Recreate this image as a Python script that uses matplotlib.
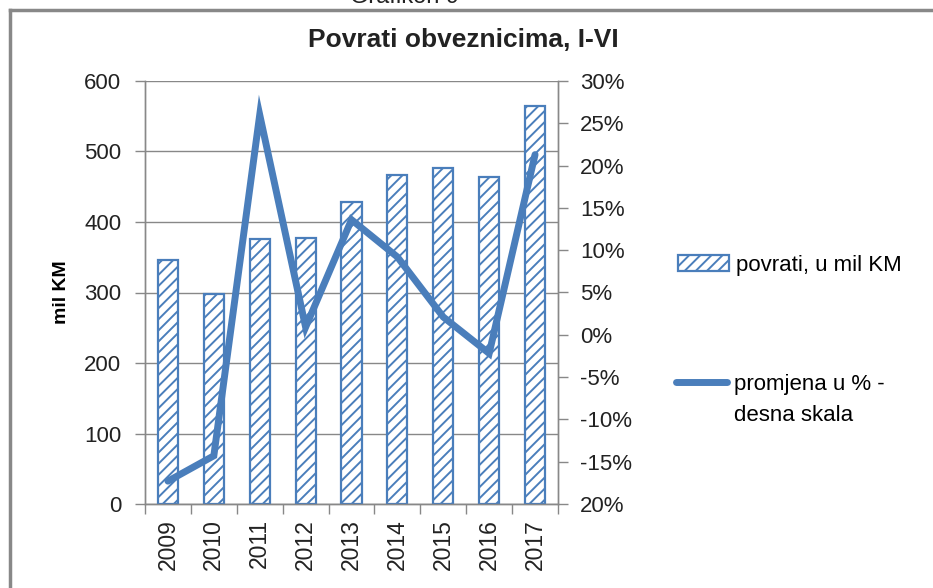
import matplotlib as mpl
import matplotlib.pyplot as plt
from matplotlib.patches import Patch
from matplotlib.lines import Line2D
import numpy as np

plt.rcParams['font.family'] = ['Liberation Sans', 'DejaVu Sans']
plt.rcParams['hatch.linewidth'] = 1.4
plt.rcParams['hatch.color'] = '#4a7ebb'

# data
years = ['2009', '2010', '2011', '2012', '2013', '2014', '2015', '2016', '2017']
povrati = [346, 298, 376, 377, 428, 467, 477, 464, 565]          # mil KM
promjena = [-17.3, -14.3, 26.0, 0.9, 13.6, 9.2, 2.1, -2.2, 21.3]  # %
left_ticks = [0, 100, 200, 300, 400, 500, 600]
right_ticks = [-20, -15, -10, -5, 0, 5, 10, 15, 20, 25, 30]
right_labels = ['20%', '-15%', '-10%', '-5%', '0%', '5%', '10%', '15%', '20%', '25%', '30%']

blue = '#4a7ebb'
gray = '#888888'
txt = '#222222'

fig = plt.figure(figsize=(9.33, 5.88), dpi=100)
ax1 = fig.add_axes([145/933, 1-504/588, (558-145)/933, (504-81)/588])
ax2 = ax1.twinx()

x = np.arange(len(years))
ax1.bar(x, povrati, width=0.44, facecolor='white', edgecolor=blue, hatch='///', linewidth=1.6, zorder=3)
ax2.plot(x, promjena, c=blue, lw=5, solid_capstyle='round', solid_joinstyle='miter', zorder=4)

ax1.set_xlim(-0.5, len(years)-0.5)
ax1.set_ylim(0, 600)
ax1.set_yticks(left_ticks)
ax1.yaxis.grid(True, color=gray, lw=1.0, zorder=0)
ax1.set_axisbelow(True)
ax1.set_xticks(x)
ax1.set_xticklabels(years, rotation=90, fontsize=16.5)
ax1.set_xticks(np.arange(-0.5, len(years)), minor=True)
ax1.tick_params(axis='x', which='major', length=0, pad=11, labelcolor=txt)
ax1.tick_params(axis='x', which='minor', length=7, color=gray, width=1)
ax1.tick_params(axis='y', length=7, color=gray, width=1, labelsize=16, labelcolor=txt, pad=10)
ax1.set_ylabel('mil KM', fontsize=14, fontweight='bold', labelpad=10)

ax2.set_ylim(-20, 30)
ax2.set_yticks(right_ticks)
ax2.set_yticklabels(right_labels)
ax2.tick_params(axis='y', length=7, color=gray, width=1, labelsize=16, labelcolor=txt, pad=9)

for a in (ax1, ax2):
    for s in a.spines.values():
        s.set_color(gray)
        s.set_linewidth(1.0)
    a.spines['top'].set_visible(False)
ax2.set_zorder(ax1.get_zorder() + 1)
ax2.patch.set_visible(False)

fig.text(463/933, 1-40/588, 'Povrati obveznicima, I-VI', ha='center', va='center',
         fontsize=19, fontweight='bold', color=txt)

# frame around the chart
fig.add_artist(Line2D([10/933, 1], [1-10/588, 1-10/588], color=gray, lw=2.5, transform=fig.transFigure))
fig.add_artist(Line2D([10/933, 10/933], [0, 1-10/588], color=gray, lw=2.5, transform=fig.transFigure))
fig.text(405/933, 1+3/588, 'Grafikon 9', ha='center', va='center', fontsize=17, color=txt)

# legend: bar entry, then line entry whose label wraps onto a second row
leg_kw = dict(frameon=False, fontsize=16, handlelength=2.3, handleheight=0.7,
              handletextpad=0.3, borderpad=0, borderaxespad=0, loc='center left')
fig.legend([Patch(facecolor='white', edgecolor=blue, hatch='///', linewidth=1.6)],
           ['povrati, u mil KM'], bbox_to_anchor=(678/933, 1-265/588), **leg_kw)
fig.legend([Line2D([0], [0], color=blue, lw=5, solid_capstyle='round'),
            Line2D([0], [0], color='none')],
           ['promjena u % -', 'desna skala'], bbox_to_anchor=(676/933, 1-400/588),
           labelspacing=0.45, **leg_kw)

fig.savefig('out.png', dpi=100)
